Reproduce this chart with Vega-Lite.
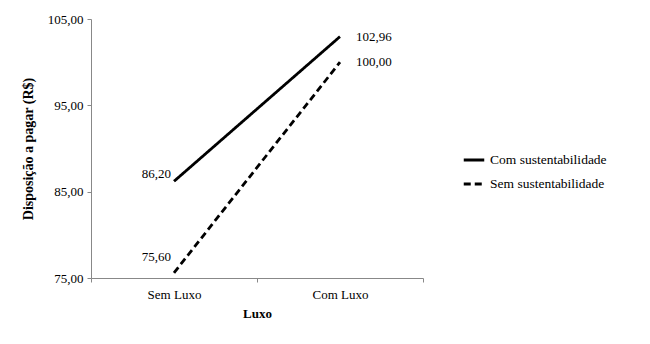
{
  "$schema": "https://vega.github.io/schema/vega-lite/v6.json",
  "width": 332,
  "height": 259,
  "autosize": "none",
  "padding": {"left": 91, "top": 19, "right": 227, "bottom": 66},
  "background": "white",
  "config": {
    "font": "Liberation Serif",
    "view": {"stroke": null},
    "text": {"font": "Liberation Serif"},
    "legend": {"labelFont": "Liberation Serif", "titleFont": "Liberation Serif"},
    "axis": {"labelFont": "Liberation Serif", "titleFont": "Liberation Serif", "domainColor": "#888888", "tickColor": "#888888", "labelColor": "#000000", "titleColor": "#000000", "grid": false}
  },
  "data": {
    "values": [
      {"luxo": "Sem Luxo", "serie": "Com sustentabilidade", "valor": 86.20, "label": "86,20"},
      {"luxo": "Com Luxo", "serie": "Com sustentabilidade", "valor": 102.96, "label": "102,96"},
      {"luxo": "Sem Luxo", "serie": "Sem sustentabilidade", "valor": 75.60, "label": "75,60"},
      {"luxo": "Com Luxo", "serie": "Sem sustentabilidade", "valor": 100.00, "label": "100,00"}
    ]
  },
  "encoding": {
    "x": {
      "field": "luxo", "type": "nominal", "sort": ["Sem Luxo", "Com Luxo"],
      "scale": {"paddingInner": 0, "paddingOuter": 0},
      "axis": {"title": "Luxo", "labelAngle": 0, "labelFont": "Liberation Serif", "titleFont": "Liberation Serif", "labelFontSize": 13, "titleFontSize": 13, "titleFontWeight": "bold", "tickBand": "extent", "tickSize": 4, "labelPadding": 6, "titlePadding": 6}
    },
    "y": {
      "field": "valor", "type": "quantitative",
      "scale": {"domain": [75, 105], "nice": false, "zero": false},
      "axis": {"title": "Disposição a pagar (R$)", "values": [75, 85, 95, 105], "labelExpr": "replace(format(datum.value, '.2f'), '.', ',')", "labelFont": "Liberation Serif", "titleFont": "Liberation Serif", "labelFontSize": 13, "titleFontSize": 14, "titleFontWeight": "bold", "tickSize": 4, "labelPadding": 4, "titlePadding": 12}
    }
  },
  "layer": [
    {
      "mark": {"type": "line", "color": "black", "strokeWidth": 2.8},
      "encoding": {
        "strokeDash": {
          "field": "serie", "type": "nominal",
          "scale": {"domain": ["Com sustentabilidade", "Sem sustentabilidade"], "range": [[1, 0], [7, 4]]},
          "legend": {"title": null, "orient": "none", "legendX": 371, "legendY": 129, "labelFont": "Liberation Serif", "labelFontSize": 13.5, "labelColor": "#000000", "symbolType": "stroke", "symbolSize": 420, "symbolStrokeWidth": 2.8, "symbolStrokeColor": "black", "rowPadding": 5}
        }
      }
    },
    {
      "transform": [{"filter": "datum.luxo == 'Com Luxo'"}],
      "mark": {"type": "text", "align": "left", "baseline": "middle", "dx": 16, "fontSize": 13, "font": "Liberation Serif", "color": "black"},
      "encoding": {"text": {"field": "label"}}
    },
    {
      "transform": [{"filter": "datum.luxo == 'Sem Luxo' && datum.serie == 'Com sustentabilidade'"}],
      "mark": {"type": "text", "align": "right", "baseline": "middle", "dx": -3, "dy": -7, "fontSize": 13, "font": "Liberation Serif", "color": "black"},
      "encoding": {"text": {"field": "label"}}
    },
    {
      "transform": [{"filter": "datum.luxo == 'Sem Luxo' && datum.serie == 'Sem sustentabilidade'"}],
      "mark": {"type": "text", "align": "right", "baseline": "middle", "dx": -3, "dy": -16, "fontSize": 13, "font": "Liberation Serif", "color": "black"},
      "encoding": {"text": {"field": "label"}}
    }
  ]
}
